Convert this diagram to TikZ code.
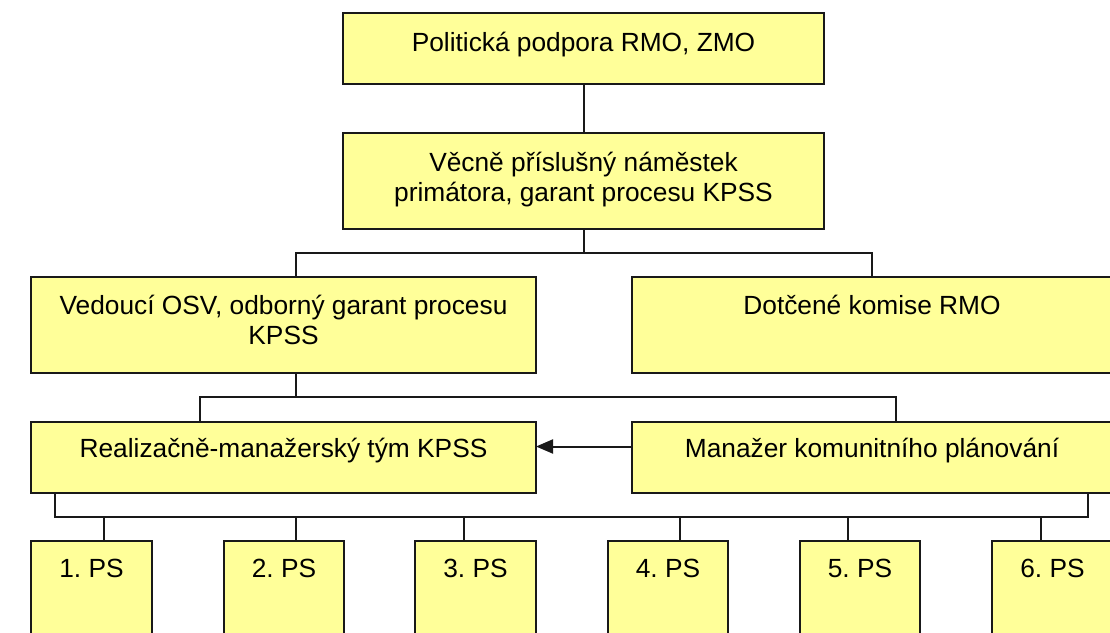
\documentclass[tikz,border=0pt]{standalone}
\usepackage{fontspec}
\setmainfont{Liberation Sans}
\usetikzlibrary{arrows.meta}
\definecolor{boxfill}{RGB}{255,255,153}
\definecolor{linec}{RGB}{25,25,25}
\tikzset{
  box/.style={draw=linec, fill=boxfill, line width=1.8pt, rectangle, inner sep=0pt, outer sep=0pt, anchor=north west},
  txt/.style={anchor=base, inner sep=0pt, outer sep=0pt, font=\fontsize{26.3}{30}\selectfont},
  conn/.style={draw=linec, line width=2pt},
  arr/.style={draw=linec, line width=2pt, -{Triangle[length=17pt,width=14pt]}}
}
\newcommand{\twol}[2]{\begin{tabular}[t]{@{}c@{}}#1\\#2\end{tabular}}
\frenchspacing
\begin{document}
\begin{tikzpicture}[x=1pt,y=-1pt]
\clip (0,0) rectangle (1110,632);
\fill[white] (0,0) rectangle (1110,632);
% boxes
\node[box, minimum width=481pt, minimum height=71pt] (b1) at (343,13) {};
\node[box, minimum width=481pt, minimum height=96pt] (b2) at (343,133) {};
\node[box, minimum width=505pt, minimum height=96pt] (b3) at (31,277) {};
\node[box, minimum width=480pt, minimum height=96pt] (b4) at (632,277) {};
\node[box, minimum width=505pt, minimum height=71pt] (b5) at (31,422) {};
\node[box, minimum width=480pt, minimum height=71pt] (b6) at (632,422) {};
\node[box, minimum width=121pt, minimum height=130pt] (p1) at (31,541) {};
\node[box, minimum width=120pt, minimum height=130pt] (p2) at (224,541) {};
\node[box, minimum width=121pt, minimum height=130pt] (p3) at (415,541) {};
\node[box, minimum width=120pt, minimum height=130pt] (p4) at (608,541) {};
\node[box, minimum width=120pt, minimum height=130pt] (p5) at (800,541) {};
\node[box, minimum width=121pt, minimum height=130pt] (p6) at (992,541) {};
% texts
\node[txt] (t1) at ([yshift=-38pt]b1.north) {Politická podpora RMO, ZMO};
\node[txt] (t2) at ([yshift=-38.5pt]b2.north) {\twol{Věcně příslušný náměstek}{primátora, garant procesu KPSS}};
\node[txt] (t3) at ([yshift=-37pt]b3.north) {\twol{Vedoucí OSV, odborný garant procesu}{KPSS}};
\node[txt] (t4) at ([yshift=-37pt]b4.north) {Dotčené komise RMO};
\node[txt] (t5) at ([yshift=-35pt]b5.north) {Realizačně-manažerský tým KPSS};
\node[txt] (t6) at ([yshift=-35pt]b6.north) {Manažer komunitního plánování};
\node[txt] (tp1) at ([yshift=-36pt]p1.north) {1. PS};
\node[txt] (tp2) at ([yshift=-36pt]p2.north) {2. PS};
\node[txt] (tp3) at ([yshift=-36pt]p3.north) {3. PS};
\node[txt] (tp4) at ([yshift=-36pt]p4.north) {4. PS};
\node[txt] (tp5) at ([yshift=-36pt]p5.north) {5. PS};
\node[txt] (tp6) at ([yshift=-36pt]p6.north) {6. PS};
% junction coordinates
\coordinate (j1) at ([yshift=-24pt]b2.south);
\coordinate (j2) at ([xshift=12.5pt,yshift=-24pt]b3.south);
\coordinate (j3) at ([xshift=24pt,yshift=-24pt]b5.south west);
% connectors
\draw[conn] (b1.south) -- (b2.north);
\draw[conn] (b2.south) -- (j1);
\draw[conn] ([xshift=12.5pt]b3.north) |- (j1) -| (b4.north);
\draw[conn] ([xshift=12.5pt]b3.south) -- (j2);
\draw[conn] ([xshift=-83.5pt]b5.north) |- (j2) -| ([xshift=24pt]b6.north);
\draw[arr] ([yshift=11pt]b6.west) -- ([yshift=11pt]b5.east);
\draw[conn] ([xshift=24pt]b5.south west) -- (j3) -| ([xshift=-24pt]b6.south east);
\draw[conn] ([xshift=73pt]p1.north west) -- ([xshift=73pt]p1.north west |- j3);
\draw[conn] ([xshift=72pt]p2.north west) -- ([xshift=72pt]p2.north west |- j3);
\draw[conn] ([xshift=49pt]p3.north west) -- ([xshift=49pt]p3.north west |- j3);
\draw[conn] ([xshift=72pt]p4.north west) -- ([xshift=72pt]p4.north west |- j3);
\draw[conn] ([xshift=48pt]p5.north west) -- ([xshift=48pt]p5.north west |- j3);
\draw[conn] ([xshift=49pt]p6.north west) -- ([xshift=49pt]p6.north west |- j3);
\end{tikzpicture}
\end{document}
